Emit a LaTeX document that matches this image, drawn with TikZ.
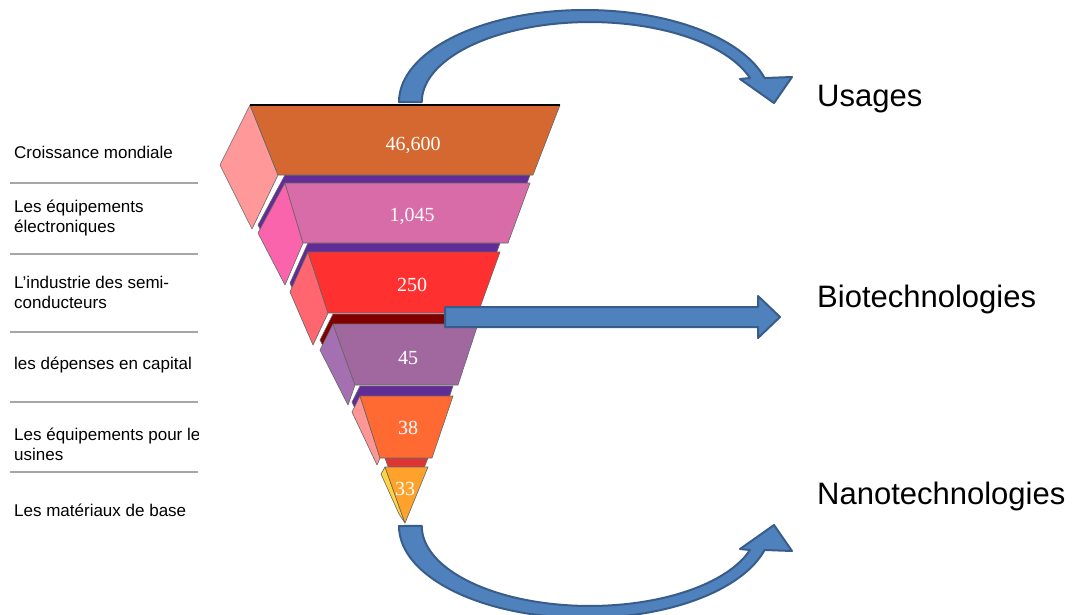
\documentclass[tikz,border=0pt]{standalone}
\usepackage{fontspec}
\setmainfont{Liberation Sans}
\newfontfamily\numfont{Liberation Serif}
\usetikzlibrary{arrows.meta,positioning}

\definecolor{arrowblue}{RGB}{79,129,189}
\definecolor{arrowedge}{RGB}{56,93,138}
\definecolor{layerA}{RGB}{212,104,48}
\definecolor{sideA}{RGB}{255,153,153}
\definecolor{layerB}{RGB}{216,108,168}
\definecolor{sideB}{RGB}{250,100,172}
\definecolor{layerC}{RGB}{255,48,48}
\definecolor{sideC}{RGB}{255,102,112}
\definecolor{layerD}{RGB}{160,104,158}
\definecolor{sideD}{RGB}{164,112,178}
\definecolor{layerE}{RGB}{255,106,50}
\definecolor{sideE}{RGB}{255,150,150}
\definecolor{layerF}{RGB}{255,162,44}
\definecolor{sideF}{RGB}{255,212,64}
\definecolor{capviolet}{RGB}{98,44,150}
\definecolor{capmaroon}{RGB}{128,0,0}
\definecolor{capred}{RGB}{222,52,52}

\begin{document}
\begin{tikzpicture}[
        x=1pt, y=-1pt,
        item/.style={anchor=west, align=left, inner sep=0pt, font=\fontsize{17}{20}\selectfont},
        rule/.style={draw=gray!70, line width=2.5pt},
        face/.style={draw=black!60, line width=0.6pt, line join=round},
        num/.style={text=white, inner sep=0pt, font=\numfont\fontsize{20}{20}\selectfont},
        target/.style={anchor=base west, inner sep=0pt, font=\fontsize{31}{31}\selectfont},
        blockarrow/.style={fill=arrowblue, draw=arrowedge, line width=2pt, line join=round}
    ]
    \useasboundingbox (0,0) rectangle (1078,614);
    \clip (0,0) rectangle (1078,614);
    \fill[white] (0,0) rectangle (1078,614);

    % left column
    \begin{scope}
        \clip (0,0) rectangle (198,614);
        \node[item] (growth) at (14,152) {Croissance mondiale};
        \node[item] (electro) at (14,218) {Les équipements\\électroniques};
        \node[item] (semi) at (14,292) {L'industrie des semi-\\conducteurs};
        \node[item] (capex) at (14,365) {les dépenses en capital};
        \node[item] (fabs) at (14,444) {Les équipements pour le\\usines};
        \node[item] (basemat) at (14,510) {Les matériaux de base};
    \end{scope}
    \foreach \y in {183,254,332,402,472}
        \draw[rule] (10,\y) -- (198,\y);

    % pyramid, drawn from the tip upwards
    \filldraw[face, fill=capred, shift={(0,-9)}] (385,467) -- (428,467) -- (405,523) -- cycle;
    \filldraw[face, fill=sideF] (385,467) -- (381,474) -- (399,514) -- (405,523) -- cycle;
    \filldraw[face, fill=layerF] (385,467) -- (428,467) -- (405,523) -- cycle;

    \filldraw[face, fill=capviolet, shift={(0,-10)}] (360,396) -- (352,412) -- (377,465) -- (380,458) -- (432,458) -- (453,396) -- cycle;
    \filldraw[face, fill=sideE] (360,396) -- (352,412) -- (377,465) -- (380,458) -- cycle;
    \filldraw[face, fill=layerE] (360,396) -- (453,396) -- (432,458) -- (380,458) -- cycle;

    \filldraw[face, fill=capmaroon, shift={(0,-10)}] (333,324) -- (320,350) -- (348,405) -- (355,385) -- (458,385) -- (478,324) -- cycle;
    \filldraw[face, fill=sideD] (333,324) -- (320,350) -- (348,405) -- (355,385) -- cycle;
    \filldraw[face, fill=layerD] (333,324) -- (478,324) -- (458,385) -- (355,385) -- cycle;

    \filldraw[face, fill=capviolet, shift={(0,-9)}] (308,252) -- (290,292) -- (313,345) -- (328,313) -- (478,313) -- (500,252) -- cycle;
    \filldraw[face, fill=sideC] (308,252) -- (290,292) -- (313,345) -- (328,313) -- cycle;
    \filldraw[face, fill=layerC] (308,252) -- (500,252) -- (478,313) -- (328,313) -- cycle;

    \filldraw[face, fill=capviolet, shift={(0,-8)}] (285,183) -- (258,233) -- (285,285) -- (303,243) -- (508,243) -- (530,183) -- cycle;
    \filldraw[face, fill=sideB] (285,183) -- (258,233) -- (285,285) -- (303,243) -- cycle;
    \filldraw[face, fill=layerB] (285,183) -- (530,183) -- (508,243) -- (303,243) -- cycle;

    \filldraw[face, fill=sideA] (250,105) -- (220,165) -- (252,229) -- (278,175) -- cycle;
    \filldraw[face, fill=layerA] (250,105) -- (560,105) -- (533,175) -- (278,175) -- cycle;
    \draw[black, line width=2pt] (250,105) -- (560,105);

    \node[num] (vA) at (413,145) {46,600};
    \node[num] (vB) at (412,216) {1,045};
    \node[num] (vC) at (412,285) {250};
    \node[num] (vD) at (408,358) {45};
    \node[num] (vE) at (408,428) {38};
    \node[num] (vF) at (405,489) {33};

    % right column
    \node[target] (usages) at (817,106) {Usages};
    \node[target] (biotech) at (817,307) {Biotechnologies};
    \node[target] (nanotech) at (817,504) {Nanotechnologies};

    % block arrows
    \filldraw[blockarrow] (399,102) arc[start angle=180, end angle=15.1, x radius=186pt, y radius=92pt]
        -- (792,77) -- (774,103) -- (740,79) -- (750,78)
        arc[start angle=17.5, end angle=180, x radius=168pt, y radius=80pt] -- cycle;
    \filldraw[blockarrow] (445,307) -- (758,307) -- (758,296) -- (780,317) -- (758,338) -- (758,327) -- (445,327) -- cycle;
    \filldraw[blockarrow] (399,526) arc[start angle=180, end angle=344.9, x radius=186pt, y radius=92pt]
        -- (792,551) -- (774,525) -- (740,549) -- (750,550)
        arc[start angle=342.5, end angle=180, x radius=168pt, y radius=80pt] -- cycle;
\end{tikzpicture}
\end{document}
